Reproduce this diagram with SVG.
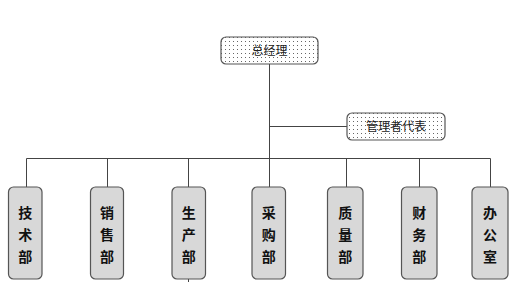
<svg xmlns="http://www.w3.org/2000/svg" width="517" height="282" viewBox="0 0 517 282">
<defs>
<pattern id="dots" width="4" height="4" patternUnits="userSpaceOnUse">
<rect width="4" height="4" fill="#ffffff"/>
<rect x="1" y="1" width="1" height="1" fill="#666666"/>
</pattern>
<style>
.top{fill:url(#dots);stroke:#555555;stroke-width:1.2}
.dept{fill:#d8d8d8;stroke:#555555;stroke-width:1.2}
.ln{stroke:#444444;stroke-width:1;fill:none}
.t1{font-family:"Noto Sans CJK SC",sans-serif;font-size:12px;fill:#222222;text-anchor:middle}
.t2{font-family:"Noto Sans CJK SC",sans-serif;font-size:14px;font-weight:bold;fill:#111111;text-anchor:middle}
</style>
</defs>
<rect width="517" height="282" fill="#ffffff"/>
<g id="connectors">
<path class="ln" d="M269.5 64 V158.5"/>
<path class="ln" d="M269.5 126.5 H347"/>
<path class="ln" d="M26.5 187 V158.5 H490.5 V187"/>
<path class="ln" d="M107.5 158.5 V187"/>
<path class="ln" d="M188.5 158.5 V187"/>
<path class="ln" d="M269.5 158.5 V187"/>
<path class="ln" d="M346.5 158.5 V187"/>
<path class="ln" d="M419.5 158.5 V187"/>
<path class="ln" d="M188.5 279 V282"/>
</g>
<g id="n-zjl">
<rect class="top" x="221" y="37" width="97" height="27" rx="5"/>
<text class="t1" x="269.5" y="55">总经理</text>
</g>
<g id="n-glzdb">
<rect class="top" x="347" y="113" width="98" height="27" rx="5"/>
<text class="t1" x="396" y="131">管理者代表</text>
</g>
<g id="n-jsb">
<rect class="dept" x="8.5" y="187" width="33.5" height="92" rx="5"/>
<text class="t2" x="25.25" y="218">技</text><text class="t2" x="25.25" y="240">术</text><text class="t2" x="25.25" y="262">部</text>
</g>
<g id="n-xsb">
<rect class="dept" x="90.5" y="187" width="33" height="92" rx="5"/>
<text class="t2" x="107" y="218">销</text><text class="t2" x="107" y="240">售</text><text class="t2" x="107" y="262">部</text>
</g>
<g id="n-scb">
<rect class="dept" x="172" y="187" width="33.5" height="92" rx="5"/>
<text class="t2" x="188.75" y="218">生</text><text class="t2" x="188.75" y="240">产</text><text class="t2" x="188.75" y="262">部</text>
</g>
<g id="n-cgb">
<rect class="dept" x="252" y="187" width="33.5" height="92" rx="5"/>
<text class="t2" x="268.75" y="218">采</text><text class="t2" x="268.75" y="240">购</text><text class="t2" x="268.75" y="262">部</text>
</g>
<g id="n-zlb">
<rect class="dept" x="327.5" y="187" width="35.5" height="92" rx="5"/>
<text class="t2" x="345.25" y="218">质</text><text class="t2" x="345.25" y="240">量</text><text class="t2" x="345.25" y="262">部</text>
</g>
<g id="n-cwb">
<rect class="dept" x="401.5" y="187" width="35.5" height="92" rx="5"/>
<text class="t2" x="419.25" y="218">财</text><text class="t2" x="419.25" y="240">务</text><text class="t2" x="419.25" y="262">部</text>
</g>
<g id="n-bgs">
<rect class="dept" x="472" y="187" width="36" height="92" rx="5"/>
<text class="t2" x="490" y="218">办</text><text class="t2" x="490" y="240">公</text><text class="t2" x="490" y="262">室</text>
</g>
</svg>
